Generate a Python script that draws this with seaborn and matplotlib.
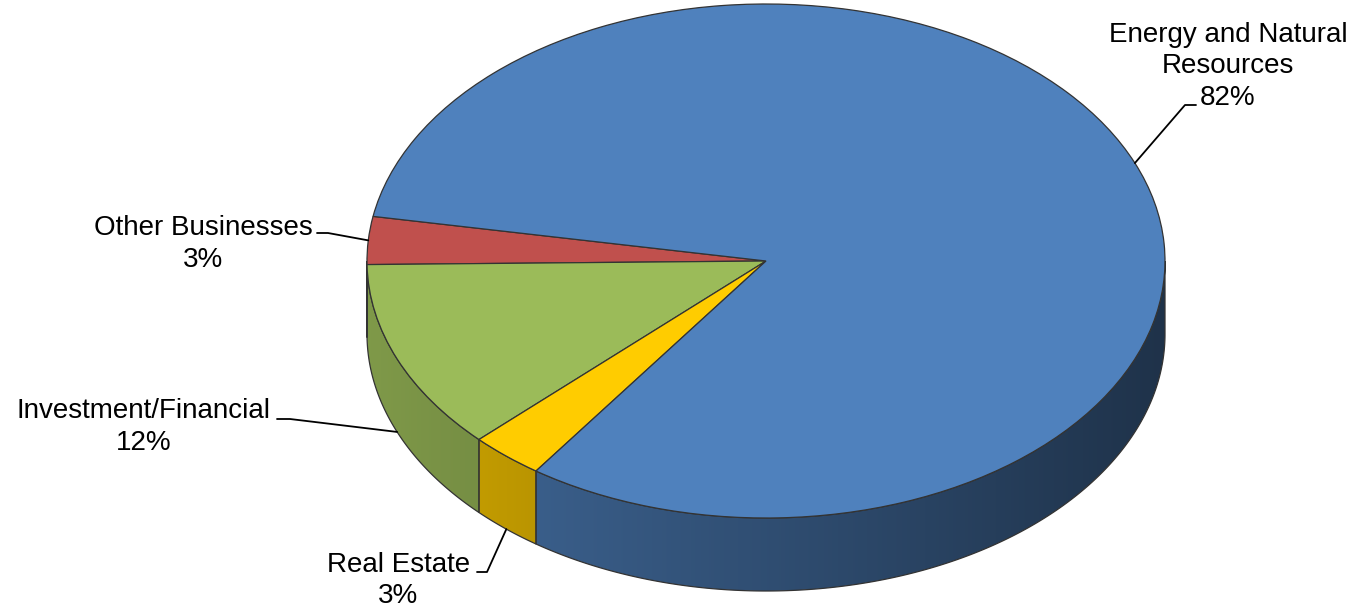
import numpy as np
import matplotlib
matplotlib.use("Agg")
import matplotlib.pyplot as plt
import matplotlib.colors as mcolors
import seaborn as sns
from matplotlib.patches import Polygon

# ---- data ---------------------------------------------------------------
categories = ["Other Businesses", "Investment/Financial", "Real Estate",
              "Energy and Natural\nResources"]
shares = [3, 12, 3, 82]
top_colors = ["#c0504d", "#9bbb59", "#ffcc00", "#4f81bd"]

# ---- style --------------------------------------------------------------
sns.set_theme(style="white")
plt.rcParams["font.family"] = ["Liberation Sans", "DejaVu Sans"]

W, H = 1353, 607
fig = plt.figure(figsize=(W / 100, H / 100), dpi=100)
ax = fig.add_axes([0, 0, 1, 1])

# ellipse geometry (pixels): centre, radii and thickness of the disc
CX, CY = 766, 261
RX, RY = 399, 257
DEPTH = 73 / RY
START = 170.0
EDGE = "#333333"


def px(x, y):
    """pixel position -> data coordinates of the squashed pie"""
    return (x - CX) / RX, (CY - y) / RY


# top faces
wedges, _ = ax.pie(shares, colors=top_colors, startangle=START,
                   counterclock=True, radius=1, center=(0, 0),
                   wedgeprops=dict(edgecolor=EDGE, linewidth=0.9))
for w in wedges:
    w.set_zorder(3)

# side walls of the disc (front half only), shaded darker to the right
bounds = START + 360 * np.concatenate([[0], np.cumsum(shares)]) / sum(shares)
gx = np.linspace(-1, 1, 512)
shade = 0.82 - 0.43 * (gx + 1) / 2

for i, col in enumerate(top_colors):
    a0, a1 = bounds[i], bounds[i + 1]
    base = np.array(mcolors.to_rgb(col))
    for k in range(2):
        lo = max(a0, 180 + 360 * k)
        hi = min(a1, 360 + 360 * k)
        if hi <= lo:
            continue
        n = max(2, int((hi - lo) * 3))
        t = np.radians(np.linspace(lo, hi, n))
        xs, ys = np.cos(t), np.sin(t)
        outline = np.concatenate([np.column_stack([xs, ys]),
                                  np.column_stack([xs[::-1], ys[::-1] - DEPTH])])
        clip = Polygon(outline, closed=True, facecolor="none",
                       edgecolor=EDGE, linewidth=0.9, zorder=2)
        ax.add_patch(clip)
        grad = np.clip(base[None, None, :] * shade[None, :, None], 0, 1)
        im = ax.imshow(grad, extent=(-1, 1, -1 - DEPTH, 0), aspect="auto",
                       interpolation="bilinear", zorder=1)
        im.set_clip_path(clip)

ax.set_aspect("auto")
ax.set_xlim(-CX / RX, (W - CX) / RX)
ax.set_ylim(-(H - CY) / RY, CY / RY)
ax.axis("off")

# ---- labels with leader lines ------------------------------------------
FS = 20
LINE = 31.7
# text centre x, first baseline y, leader start and elbow (pixels)
label_layout = [
    (203, 235, (317, 233), (328, 233)),
    (143.5, 418, (277, 419), (290, 419)),
    (398.5, 571.7, (477, 572), (487, 572)),
    (1228, 41.7, (1196, 105), (1185, 105)),
]

for i, (name, val) in enumerate(zip(categories, shares)):
    tx, ty, start, elbow = label_layout[i]
    lines = name.split("\n") + [f"{val}%"]
    for j, line in enumerate(lines):
        x, y = px(tx, ty + j * LINE)
        ax.text(x, y, line, ha="center", va="baseline", fontsize=FS,
                color="black", zorder=5)
    mid = np.radians((bounds[i] + bounds[i + 1]) / 2)
    ex, ey = np.cos(mid), np.sin(mid)
    if ey < 0:
        ey -= DEPTH
    sx, sy = px(*start)
    bx, by = px(*elbow)
    ax.plot([sx, bx, ex], [sy, by, ey], color="black", lw=1.3, zorder=4)

fig.savefig("out.png", dpi=100, facecolor="white")
